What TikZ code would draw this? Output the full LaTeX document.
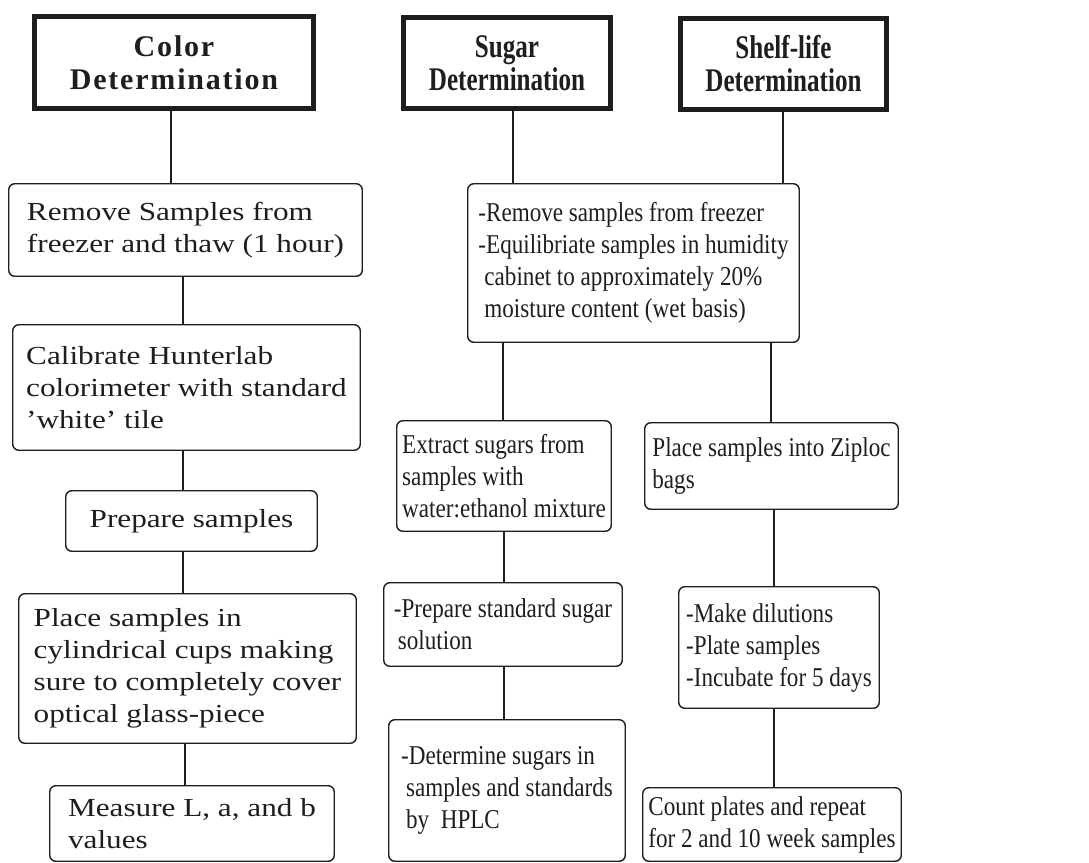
\documentclass[tikz,border=0pt]{standalone}
\usepackage{fontspec}
\setmainfont{Liberation Serif}
\newfontfamily\headfont[LetterSpace=6]{Liberation Serif}
\newfontfamily\headfontN[FakeStretch=0.76]{Liberation Serif}
\newfontfamily\colA[FakeStretch=1.2]{Liberation Serif}
\newfontfamily\colB[FakeStretch=0.85]{Liberation Serif}
\definecolor{ink}{HTML}{1E1E1E}
\tikzset{
  head/.style={draw=ink, line width=2.6pt, inner sep=0pt, align=center, text=ink,
    font=\headfont\bfseries\fontsize{15}{16.5}\selectfont},
  headN/.style={head, font=\headfontN\bfseries\fontsize{16.5}{16.5}\selectfont},
  boxA/.style={draw=ink, line width=0.7pt, rounded corners=3pt, inner sep=0pt, align=left, text=ink,
    font=\colA\fontsize{13}{16}\selectfont},
  boxB/.style={draw=ink, line width=0.7pt, rounded corners=3pt, inner sep=0pt, align=left, text=ink,
    font=\colB\fontsize{13.6}{16}\selectfont},
  link/.style={draw=ink, line width=0.65pt}
}
\begin{document}
\begin{tikzpicture}[x=0.5pt, y=-0.5pt]
\useasboundingbox[fill=white] (0,0) rectangle (1089,863);
% headers
\node[head, minimum width=139.5pt, minimum height=46pt] (h1) at (174,62.5) {Color\\Determination};
\node[headN, minimum width=103.5pt, minimum height=45.5pt] (h2) at (507,63) {Sugar\\Determination};
\node[headN, minimum width=103pt, minimum height=45.5pt] (h3) at (783.5,64) {Shelf-life\\Determination};
% column 1
\node[boxA, minimum width=176.75pt, minimum height=46.25pt] (b1) at (185.5,230) {Remove Samples from\\freezer and thaw (1 hour)};
\node[boxA, minimum width=173.75pt, minimum height=62.75pt] (b2) at (186.5,387.5) {Calibrate Hunterlab\\colorimeter with standard\\’white’ tile};
\node[boxA, minimum width=125.75pt, minimum height=30.25pt] (b3) at (191.5,521) {Prepare samples};
\node[boxA, minimum width=168.75pt, minimum height=74.75pt] (b4) at (187.5,668.5) {Place samples in\\cylindrical cups making\\sure to completely cover\\optical glass-piece};
\node[boxA, minimum width=142.25pt, minimum height=37.75pt] (b5) at (192,823.5) {Measure L, a, and b\\values};
% merged box
\node[boxB, minimum width=165.75pt, minimum height=79.25pt] (m) at (633.5,263) {-Remove samples from freezer\\-Equilibriate samples in humidity\\\hspace*{3pt}cabinet to approximately 20\%\\\hspace*{3pt}moisture content (wet basis)};
% column 2
\node[boxB, minimum width=107.25pt, minimum height=55.25pt] (e) at (504,476) {Extract sugars from\\samples with\\water:ethanol mixture};
\node[boxB, minimum width=119.25pt, minimum height=41.75pt] (p) at (503,624.5) {-Prepare standard sugar\\\hspace*{2pt}solution};
\node[boxB, minimum width=118.25pt, minimum height=70.75pt] (d) at (507,790.5) {-Determine sugars in\\\hspace*{2.5pt}samples and standards\\\hspace*{2.5pt}by\ \ HPLC};
% column 3
\node[boxB, minimum width=126.75pt, minimum height=43.25pt] (z) at (771.5,466) {Place samples into Ziploc\\bags};
\node[boxB, minimum width=100.25pt, minimum height=60.75pt] (md) at (779,647.5) {-Make dilutions\\-Plate samples\\-Incubate for 5 days};
\node[boxB, minimum width=129.25pt, minimum height=36.75pt] (c) at (772,824.5) {Count plates and repeat\\for 2 and 10 week samples};
% connector x positions
\coordinate (k1) at (171,0);
\coordinate (k2) at (183,0);
\coordinate (k3) at (185,0);
\coordinate (k4) at (513,0);
\coordinate (k5) at (783,0);
\coordinate (k6) at (503,0);
\coordinate (k7) at (771,0);
\coordinate (k8) at (504,0);
\coordinate (k9) at (774,0);
% connectors
\draw[link] (h1.south -| k1) -- (b1.north -| k1);
\draw[link] (b1.south -| k2) -- (b2.north -| k2);
\draw[link] (b2.south -| k2) -- (b3.north -| k2);
\draw[link] (b3.south -| k2) -- (b4.north -| k2);
\draw[link] (b4.south -| k3) -- (b5.north -| k3);
\draw[link] (h2.south -| k4) -- (m.north -| k4);
\draw[link] (h3.south -| k5) -- (m.north -| k5);
\draw[link] (m.south -| k6) -- (e.north -| k6);
\draw[link] (m.south -| k7) -- (z.north -| k7);
\draw[link] (e.south -| k8) -- (p.north -| k8);
\draw[link] (p.south -| k8) -- (d.north -| k8);
\draw[link] (z.south -| k9) -- (md.north -| k9);
\draw[link] (md.south -| k9) -- (c.north -| k9);
\end{tikzpicture}
\end{document}
